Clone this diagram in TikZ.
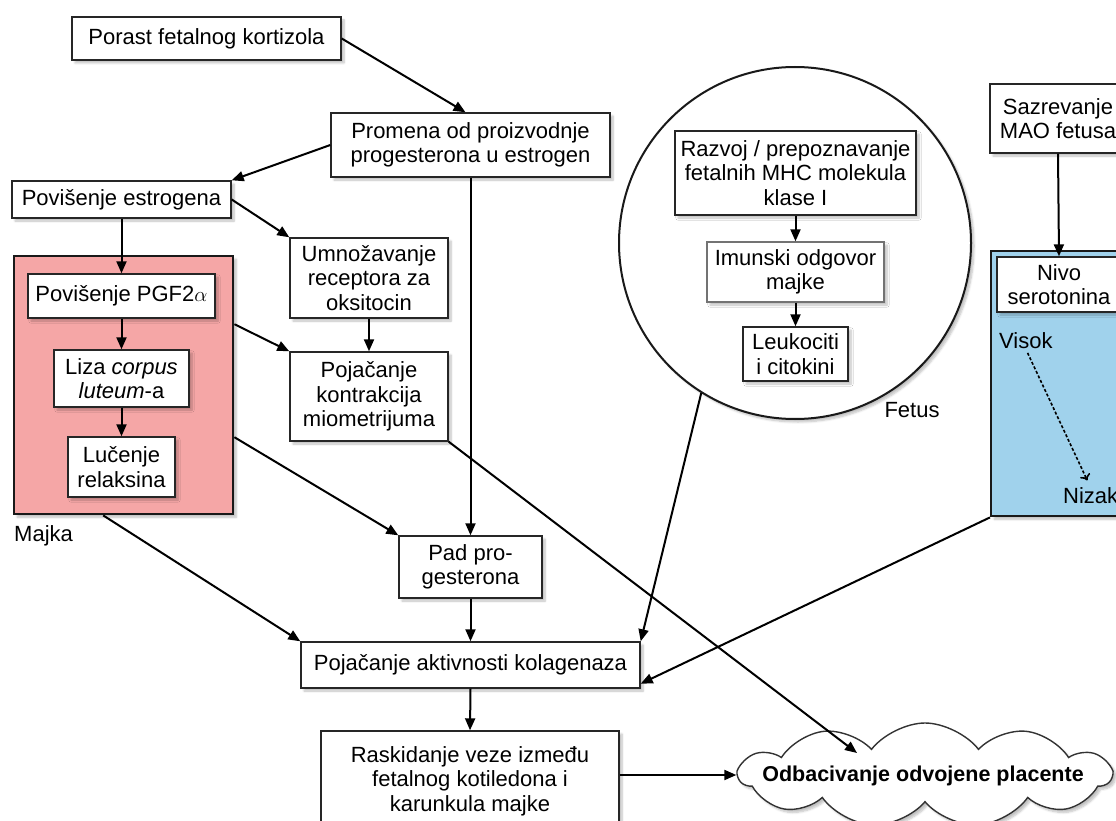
\documentclass[tikz,border=0pt]{standalone}
\usepackage{fontspec}
\setmainfont{Liberation Sans}
\usetikzlibrary{arrows.meta,shapes.symbols,shadows.blur,calc}
\definecolor{pinkfill}{RGB}{245,166,166}
\definecolor{bluefill}{RGB}{160,210,236}
\begin{document}
\begin{tikzpicture}[x=1pt,y=-1pt,
 every node/.style={font=\fontsize{22}{24.5}\selectfont},
 sh/.style={blur shadow={shadow xshift=3pt, shadow yshift=-3pt, shadow blur steps=6, shadow opacity=25}},
 box/.style={draw=black!85, fill=white, line width=1.4pt, inner sep=0pt, align=center, sh},
 conn/.style={line width=2pt, -{Triangle[length=12pt,width=10pt]}},
 lbl/.style={inner sep=0pt},
 ]
\useasboundingbox (0,0) rectangle (1116,821);
\clip (0,0) rectangle (1116,821);

% regions
\node[draw=black!90, fill=pinkfill, line width=2.4pt, minimum width=219pt, minimum height=258pt, anchor=north west, inner sep=0pt, sh] (pink) at (13,255) {};
\node[draw=black!90, fill=bluefill, line width=2.4pt, minimum width=170pt, minimum height=265pt, anchor=north west, inner sep=0pt, sh] (bluebox) at (990,250) {};
\node[circle, draw=black!90, fill=white, line width=2pt, minimum size=352pt, inner sep=0pt, sh] (fetus) at (795,243) {};

% nodes
\node[box, minimum width=269pt, minimum height=43pt] (porast) at (206.5,38.5) {Porast fetalnog kortizola};
\node[box, minimum width=279pt, minimum height=64pt] (promena) at (470.5,145) {Promena od proizvodnje\\progesterona u estrogen};
\node[box, minimum width=219pt, minimum height=37pt] (estrogen) at (121.5,199.5) {Povišenje estrogena};
\node[box, minimum width=158pt, minimum height=80pt] (umnoz) at (369,278) {Umnožavanje\\receptora za\\oksitocin};
\node[box, minimum width=187pt, minimum height=44pt] (pgf) at (121.5,296) {Povišenje PGF2$\alpha$};
\node[box, minimum width=135pt, minimum height=57pt] (liza) at (121.5,378.5) {Liza \textit{corpus}\\\textit{luteum}-a};
\node[box, minimum width=107pt, minimum height=60pt] (lucenje) at (121.5,467) {Lučenje\\relaksina};
\node[lbl, anchor=west] (majka) at (14,536) {Majka};
\node[box, minimum width=158pt, minimum height=89pt] (kontr) at (369,396.5) {Pojačanje\\kontrakcija\\miometrijuma};
\node[box, minimum width=143pt, minimum height=62pt] (pad) at (470.5,567) {Pad pro-\\gesterona};
\node[box, minimum width=339pt, minimum height=46pt] (kolag) at (470.5,665) {Pojačanje aktivnosti kolagenaza};
\node[box, minimum width=298pt, minimum height=100pt] (rask) at (470,781) {Raskidanje veze između\\fetalnog kotiledona i\\karunkula majke};
\node[cloud, cloud puffs=11, cloud puff arc=105, draw=black!80, fill=white, line width=1.4pt, minimum width=372pt, minimum height=104pt, inner sep=0pt, sh] (cloud) at (925,775) {};
\node[lbl, font=\bfseries\fontsize{21.5}{24}\selectfont] (cloudtxt) at (923,776) {Odbacivanje odvojene placente};

\node[box, minimum width=241pt, minimum height=84pt] (razvoj) at (795.5,173) {Razvoj / prepoznavanje\\fetalnih MHC molekula\\klase I};
\node[box, draw=black!55, minimum width=177pt, minimum height=60pt] (imun) at (795.5,272) {Imunski odgovor\\majke};
\node[box, minimum width=105pt, minimum height=54pt] (leuko) at (795.5,354) {Leukociti\\i citokini};
\node[lbl] (fetuslbl) at (912,410) {Fetus};

\node[box, minimum width=136pt, minimum height=69pt] (sazrev) at (1058,118.5) {Sazrevanje\\MAO fetusa};
\node[box, minimum width=124pt, minimum height=55pt] (nivo) at (1059,284.5) {Nivo\\serotonina};
\node[lbl, anchor=west] (visok) at (999,341) {Visok};
\node[lbl, anchor=west] (nizak) at (1063,496) {Nizak};

\coordinate (cloudtip) at (857,753);

% connectors
\draw[conn] (porast.east) -- ([xshift=-5pt]promena.north);
\draw[conn] (promena.west) -- (estrogen.north east);
\draw[conn] (estrogen.east) -- (umnoz.north west);
\draw[conn] (estrogen.south) -- (pgf.north);
\draw[conn] (promena.south) -- (pad.north);
\draw[conn] (pgf.south) -- (liza.north);
\draw[conn] (liza.south) -- (lucenje.north);
\draw[conn] ([yshift=61pt]pink.east) -- (kontr.north west);
\draw[conn] ([yshift=-52pt]pink.east) -- (pad.north west);
\draw[conn] ([xshift=-20.5pt]pink.south) -- (kolag.north west);
\draw[conn] (umnoz.south) -- (kontr.north);
\draw[conn] (kontr.south east) -- (cloudtip);
\draw[conn] (fetus.238) -- (kolag.north east);
\draw[conn] (bluebox.south west) -- ([yshift=5pt]kolag.south east);
\draw[conn] (pad.south) -- (kolag.north);
\draw[conn] (kolag.south) -- (rask.north);
\draw[conn] (rask.east |- cloud.west) -- (cloud.west);
\draw[conn] (razvoj.south) -- (imun.north);
\draw[conn] (imun.south) -- (leuko.north);
\draw[conn] (sazrev.south) -- (nivo.north);
\draw[line width=1.6pt, dash pattern=on 3pt off 2pt, -{To[length=6pt,width=11pt]}, shorten <=4pt, shorten >=8pt] (visok.south) -- (nizak.north);
\end{tikzpicture}
\end{document}
